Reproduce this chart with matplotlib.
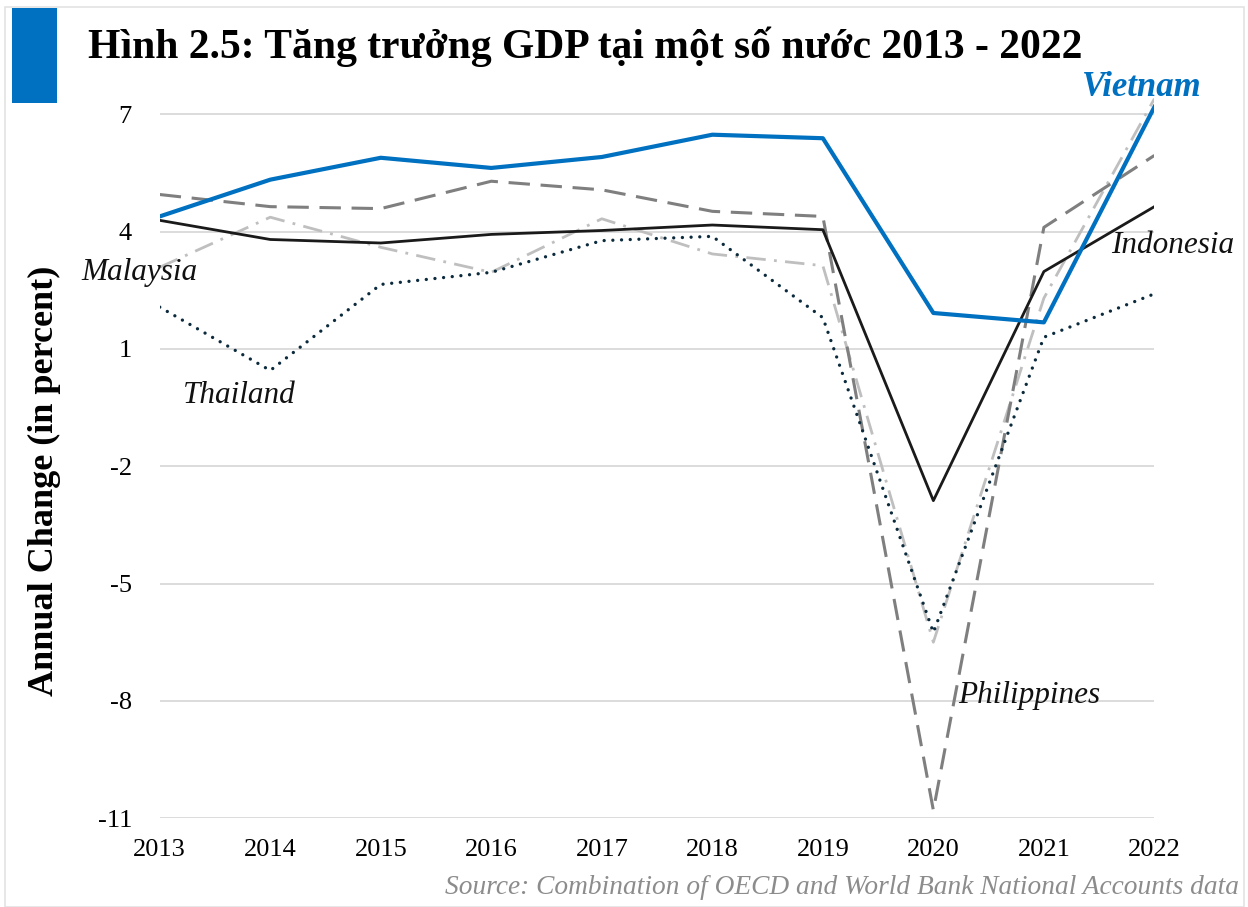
import matplotlib.pyplot as plt
from matplotlib.patches import Rectangle

years = [2013, 2014, 2015, 2016, 2017, 2018, 2019, 2020, 2021, 2022]
vietnam = [4.39, 5.33, 5.89, 5.63, 5.91, 6.48, 6.39, 1.92, 1.68, 7.19]
indonesia = [4.29, 3.80, 3.71, 3.93, 4.03, 4.17, 4.05, -2.88, 2.98, 4.64]
philippines = [4.95, 4.64, 4.59, 5.29, 5.07, 4.52, 4.39, -10.8, 4.11, 5.95]
malaysia = [3.09, 4.37, 3.60, 2.96, 4.33, 3.43, 3.13, -6.50, 2.30, 7.40]
thailand = [2.07, 0.45, 2.65, 2.96, 3.77, 3.88, 1.80, -6.25, 1.30, 2.41]
yticks = [7, 4, 1, -2, -5, -8, -11]

plt.rcParams['font.family'] = ['Liberation Serif', 'DejaVu Serif']
plt.rcParams['axes.unicode_minus'] = False

fig = plt.figure(figsize=(12.48, 9.07), dpi=100)
ax = fig.add_axes([0.128, 0.098, 0.797, 0.819])

# frame and blue marker block
fig.patches.append(Rectangle((0.004, 0.0), 0.993, 0.992, transform=fig.transFigure,
                             fill=False, edgecolor='#E3E3E3', lw=1.2))
fig.patches.append(Rectangle((0.010, 0.886), 0.036, 0.105, transform=fig.transFigure,
                             color='#0070C0', lw=0))

ax.plot(years, malaysia, color='#BFBFBF', lw=2, dashes=(7, 3, 1, 3))
ax.plot(years, philippines, color='#7F7F7F', lw=2.2, dashes=(7, 3.5))
ax.plot(years, thailand, color='#0B2A3C', lw=2.4, dashes=(0.01, 2.6),
        dash_capstyle='round')
ax.plot(years, indonesia, color='#1A1A1A', lw=2)
ax.plot(years, vietnam, color='#0070C0', lw=3)

ax.set_xlim(2013, 2022)
ax.set_ylim(-11, 8)
ax.set_yticks(yticks)
ax.set_xticks(years)
ax.grid(axis='y', color='#D9D9D9', lw=1.3)
ax.set_axisbelow(True)
for s in ax.spines.values():
    s.set_visible(False)
ax.tick_params(length=0, labelsize=19)
ax.tick_params(axis='x', pad=15)
ax.tick_params(axis='y', pad=20)

fig.text(0.036, 0.470, 'Annual Change (in percent)', fontsize=26, fontweight='bold',
         rotation=90, ha='center', va='center')

lab = dict(fontsize=22.5, style='italic', color='#111111', clip_on=False)
ax.text(2022.43, 7.7, 'Vietnam', ha='right', va='center', fontsize=25,
        style='italic', fontweight='bold', color='#0070C0', clip_on=False)
ax.text(2021.61, 3.65, 'Indonesia', ha='left', va='center', **lab)
ax.text(2012.29, 2.96, 'Malaysia', ha='left', va='center', **lab)
ax.text(2013.21, -0.19, 'Thailand', ha='left', va='center', **lab)
ax.text(2020.22, -7.87, 'Philippines', ha='left', va='center', **lab)

fig.text(0.0705, 0.949, 'Hình 2.5: Tăng trưởng GDP tại một số nước 2013 - 2022',
         fontsize=30, fontweight='bold', ha='left', va='center')
fig.text(0.993, 0.022, 'Source: Combination of OECD and World Bank National Accounts data',
         fontsize=19.7, style='italic', color='#8C8C8C', ha='right', va='center')

fig.savefig('out.png')
